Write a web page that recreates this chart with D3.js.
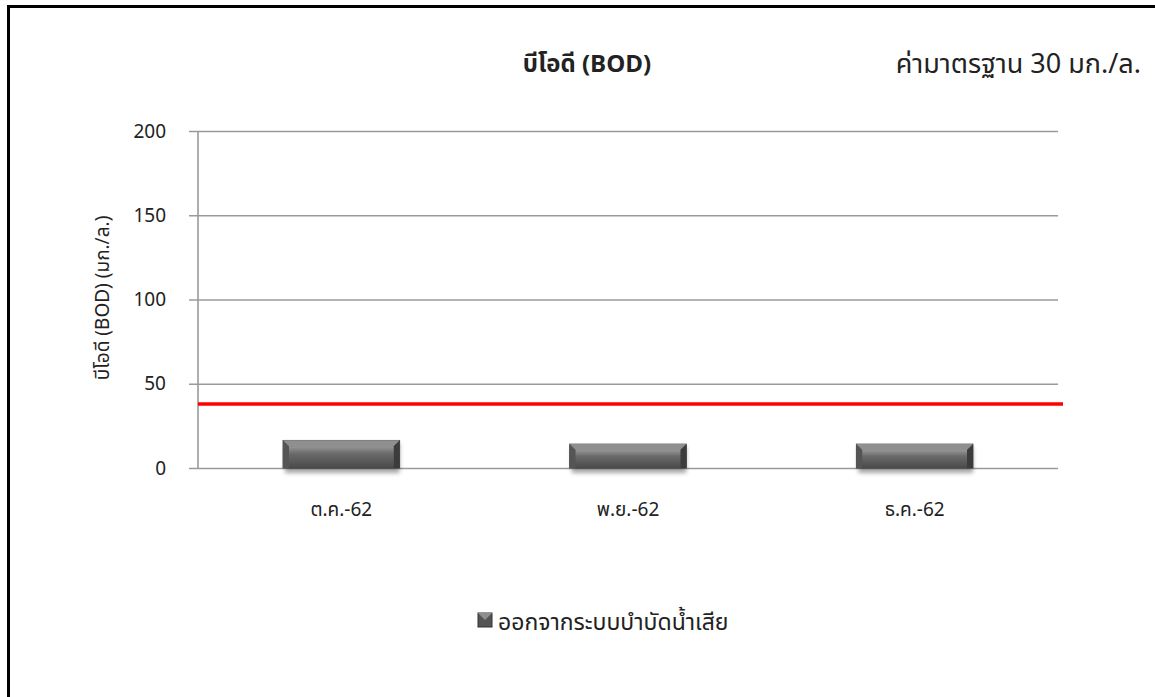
<!DOCTYPE html>
<html><head><meta charset="utf-8">
<script src="https://cdn.jsdelivr.net/npm/d3@7/dist/d3.min.js"></script>
<style>
html,body{margin:0;padding:0;background:#fff;}
svg{display:block;}
text{font-family:"Noto Sans Thai","Leelawadee UI",Tahoma,"Noto Sans",sans-serif;fill:#222;}
</style></head>
<body>
<svg id="c" width="1155" height="697"></svg>
<script>
const categories = ["ต.ค.-62", "พ.ย.-62", "ธ.ค.-62"];
const bodValues = [16.4, 14.2, 14.2];
const standardLine = 38;
const yTicks = [0, 50, 100, 150, 200];
const seriesName = "ออกจากระบบบำบัดน้ำเสีย";
const titleText = "บีโอดี (BOD)";
const standardText = "ค่ามาตรฐาน 30 มก./ล.";
const yAxisLabel = "บีโอดี (BOD) (มก./ล.)";

const svg = d3.select("#c");
const pL = 198, pR = 1058, pT = 131, pB = 468;

// frame
svg.append("rect").attr("x", 8.5).attr("y", 6.5).attr("width", 1160).attr("height", 700)
  .attr("fill", "none").attr("stroke", "#000").attr("stroke-width", 3);

const x = d3.scaleBand().domain(categories).range([pL, pR]).paddingInner(0.593).paddingOuter(0.2965);
const y = d3.scaleLinear().domain([0, 200]).range([pB, pT]);

const defs = svg.append("defs");
const g1 = defs.append("linearGradient").attr("id", "barg").attr("x1", 0).attr("y1", 0).attr("x2", 0).attr("y2", 1);
g1.append("stop").attr("offset", "0").attr("stop-color", "#9a9a9a");
g1.append("stop").attr("offset", "0.35").attr("stop-color", "#6a6a6a");
g1.append("stop").attr("offset", "1").attr("stop-color", "#4a4a4a");
const f = defs.append("filter").attr("id", "sh").attr("x", "-10%").attr("y", "-20%").attr("width", "120%").attr("height", "160%");
f.append("feGaussianBlur").attr("stdDeviation", 2);

// grid
const yAxis = d3.axisLeft(y).tickValues(yTicks).tickSize(-(pR - pL)).tickPadding(12);
const ga = svg.append("g").attr("transform", `translate(${pL},0)`).call(yAxis);
ga.select(".domain").remove();
ga.selectAll(".tick line").attr("stroke", "#9a9a9a").attr("stroke-width", 1.6).attr("x1", -9);
ga.selectAll(".tick text").attr("font-size", 19).attr("fill", "#222").attr("x", -32)
  .style("font-family", "'Noto Sans','DejaVu Sans',sans-serif");
svg.append("line").attr("x1", pL).attr("x2", pL).attr("y1", pT).attr("y2", pB)
  .attr("stroke", "#9a9a9a").attr("stroke-width", 1.6);

// bars
const bars = svg.append("g").selectAll("g").data(bodValues).join("g");
bars.append("rect").attr("x", (d, i) => x(categories[i]) + 2).attr("y", d => y(d) + 3)
  .attr("width", x.bandwidth() - 2).attr("height", d => pB - y(d) + 2)
  .attr("fill", "#000").attr("opacity", 0.35).attr("filter", "url(#sh)");
bars.append("rect").attr("x", (d, i) => x(categories[i])).attr("y", d => y(d))
  .attr("width", x.bandwidth()).attr("height", d => pB - y(d))
  .attr("fill", "url(#barg)").attr("stroke", "#3a3a3a").attr("stroke-width", 0.8);
// bevel corners
bars.each(function (d, i) {
  const g = d3.select(this);
  const x0 = x(categories[i]), x1 = x0 + x.bandwidth(), y0 = y(d), y1 = pB, b = 6;
  g.append("polygon").attr("points", `${x0},${y0} ${x1},${y0} ${x1 - b},${y0 + b} ${x0 + b},${y0 + b}`).attr("fill", "#8f8f8f");
  g.append("polygon").attr("points", `${x0},${y0} ${x0 + b},${y0 + b} ${x0 + b},${y1} ${x0},${y1}`).attr("fill", "#555");
  g.append("polygon").attr("points", `${x1},${y0} ${x1 - b},${y0 + b} ${x1 - b},${y1} ${x1},${y1}`).attr("fill", "#3c3c3c");
  g.append("rect").attr("x", x0 + b).attr("y", y0 + b).attr("width", x1 - x0 - 2 * b).attr("height", y1 - y0 - b)
    .attr("fill", "url(#barg)").attr("opacity", 0.9);
});

// standard line
svg.append("line").attr("x1", pL).attr("x2", pR + 5).attr("y1", y(standardLine)).attr("y2", y(standardLine))
  .attr("stroke", "#ff0000").attr("stroke-width", 3.5);

// x labels
svg.append("g").selectAll("text").data(categories).join("text")
  .attr("x", d => x(d) + x.bandwidth() / 2).attr("y", 516).attr("text-anchor", "middle")
  .attr("font-size", 19).text(d => d);

// title
svg.append("text").attr("x", 587).attr("y", 72).attr("text-anchor", "middle")
  .attr("font-size", 24).attr("font-weight", "bold").text(titleText);
svg.append("text").attr("x", 1141).attr("y", 73).attr("text-anchor", "end")
  .attr("font-size", 27).text(standardText);

// y label
svg.append("text").attr("transform", "translate(109,298) rotate(-90)").attr("text-anchor", "middle")
  .attr("font-size", 19).text(yAxisLabel);

// legend
const lg = svg.append("g").attr("transform", "translate(478,613)");
lg.append("rect").attr("width", 14).attr("height", 14).attr("fill", "#555").attr("stroke", "#333");
lg.append("polygon").attr("points", "0,0 14,0 7,7").attr("fill", "#8f8f8f");
lg.append("text").attr("x", 20).attr("y", 17).attr("font-size", 23).text(seriesName);
</script>
</body></html>
